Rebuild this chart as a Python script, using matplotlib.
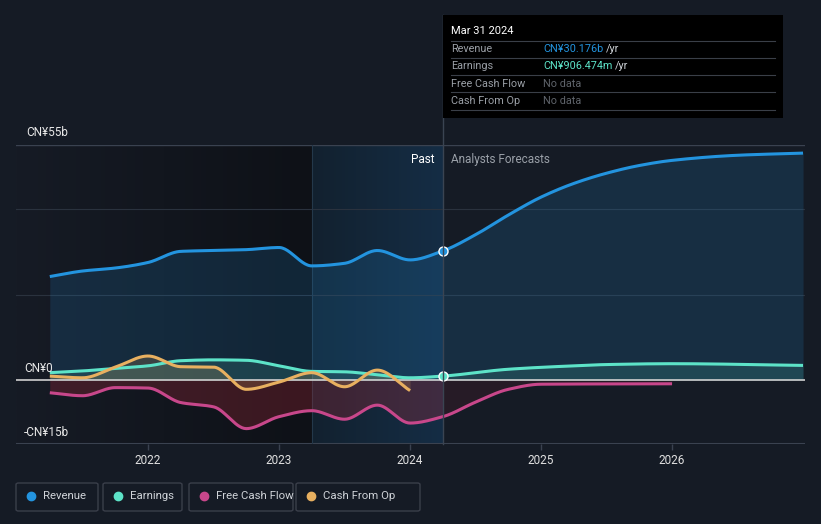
import numpy as np
import matplotlib
matplotlib.use("Agg")
import matplotlib.pyplot as plt
from matplotlib.patches import FancyBboxPatch, Rectangle
from matplotlib.lines import Line2D

plt.rcParams['font.family'] = ['Roboto', 'DejaVu Sans']

# ---------------- data (CN¥ billions) ----------------
rev_x = [2021.25, 2021.5, 2021.75, 2022.0, 2022.25, 2022.5, 2022.75, 2023.0,
         2023.25, 2023.5, 2023.75, 2024.0, 2024.25,
         2024.5, 2024.75, 2025.0, 2025.25, 2025.5, 2025.75, 2026.0, 2026.5, 2027.0]
rev_y = [24.2, 25.5, 26.2, 27.5, 30.1, 30.3, 30.5, 31.0,
         26.7, 27.3, 30.3, 28.1, 30.2,
         34.0, 38.6, 42.8, 46.0, 48.4, 50.2, 51.4, 52.6, 53.1]

earn_x = [2021.25, 2021.5, 2021.75, 2022.0, 2022.25, 2022.5, 2022.75, 2023.0,
          2023.25, 2023.5, 2023.75, 2024.0, 2024.25,
          2024.75, 2025.25, 2025.5, 2026.0, 2027.0]
earn_y = [1.7, 2.1, 2.7, 3.3, 4.5, 4.7, 4.6, 3.3,
          2.0, 1.9, 1.2, 0.5, 0.9,
          2.5, 3.3, 3.6, 3.8, 3.4]

fcf_x = [2021.25, 2021.5, 2021.75, 2022.0, 2022.25, 2022.5, 2022.75, 2023.0,
         2023.25, 2023.5, 2023.75, 2024.0, 2024.25,
         2024.5, 2024.75, 2025.0, 2026.0]
fcf_y = [-3.0, -3.7, -1.8, -1.9, -5.3, -6.3, -11.4, -8.6,
         -7.2, -9.2, -5.9, -10.1, -8.6,
         -5.2, -2.2, -1.0, -0.9]

cfo_x = [2021.25, 2021.5, 2021.75, 2022.0, 2022.25, 2022.5, 2022.75, 2023.0,
         2023.25, 2023.5, 2023.75, 2024.0]
cfo_y = [0.9, 0.5, 3.0, 5.6, 3.1, 3.0, -2.2, -0.5,
         1.7, -1.6, 2.3, -2.5]

now_x = 2024.25
band_start = 2023.25
xticks = [2022, 2023, 2024, 2025, 2026]
xtick_labels = ["2022", "2023", "2024", "2025", "2026"]
legend_names = ["Revenue", "Earnings", "Free Cash Flow", "Cash From Op"]

C_REV = "#2394df"
C_EARN = "#5de3c8"
C_FCF = "#c8478b"
C_CFO = "#e8b060"
BG = "#151b25"


def monotone(x, y, n=600):
    x = np.asarray(x, float); y = np.asarray(y, float)
    h = np.diff(x); d = np.diff(y) / h
    m = np.zeros_like(y)
    m[0] = d[0]; m[-1] = d[-1]
    for i in range(1, len(y) - 1):
        if d[i - 1] * d[i] <= 0:
            m[i] = 0
        else:
            w1 = 2 * h[i] + h[i - 1]; w2 = h[i] + 2 * h[i - 1]
            m[i] = (w1 + w2) / (w1 / d[i - 1] + w2 / d[i])
    xs = np.linspace(x[0], x[-1], n)
    idx = np.clip(np.searchsorted(x, xs) - 1, 0, len(x) - 2)
    t = (xs - x[idx]) / h[idx]
    h00 = 2 * t**3 - 3 * t**2 + 1; h10 = t**3 - 2 * t**2 + t
    h01 = -2 * t**3 + 3 * t**2; h11 = t**3 - t**2
    ys = h00 * y[idx] + h10 * h[idx] * m[idx] + h01 * y[idx + 1] + h11 * h[idx] * m[idx + 1]
    return xs, ys


fig = plt.figure(figsize=(8.21, 5.24), dpi=100, facecolor=BG)
ax = fig.add_axes([16 / 821, 1 - 444 / 524, (805 - 16) / 821, (444 - 145) / 524])
ax.set_facecolor(BG)
XL, XR, YB, YT = 2020.992, 2027.015, -15, 55
ax.set_xlim(XL, XR); ax.set_ylim(YB, YT)

# past background gradient
grad = np.linspace(0, 1, 256).reshape(1, -1)
c0 = np.array([0x16, 0x1b, 0x25]) / 255; c1 = np.array([0x0e, 0x11, 0x17]) / 255
img = c0[None, None, :] * (1 - grad[..., None]) + c1[None, None, :] * grad[..., None]
ax.imshow(img, extent=[XL, band_start, YB, YT], aspect='auto', zorder=0)
# highlighted band
b0 = np.array([0x12, 0x21, 0x2f]) / 255; b1 = np.array([0x15, 0x2d, 0x45]) / 255
img2 = b0[None, None, :] * (1 - grad[..., None]) + b1[None, None, :] * grad[..., None]
ax.imshow(img2, extent=[band_start, now_x, YB, YT], aspect='auto', zorder=0)
ax.set_xlim(XL, XR); ax.set_ylim(YB, YT)

# grid
for g in [20, 40]:
    ax.axhline(g, color="#2a323e", lw=0.8, zorder=1)
ax.axhline(55, color="#3a4250", lw=1.0, zorder=1)
ax.axhline(-15, color="#3a4250", lw=1.5, zorder=1)
ax.axvline(band_start, color="#24384a", lw=0.8, zorder=1)

# series
series = [(rev_x, rev_y, C_REV, 0.16), (earn_x, earn_y, C_EARN, 0.14),
          (fcf_x, fcf_y, C_FCF, 0.0), (cfo_x, cfo_y, C_CFO, 0.18)]
for xs_, ys_, col, a in series:
    sx, sy = monotone(xs_, ys_)
    if col == C_FCF:
        past = sx <= now_x
        ax.fill_between(sx[past], sy[past], 0, color="#b02a3a", alpha=0.28, lw=0, zorder=2)
        ax.fill_between(sx[~past], sy[~past], 0, color="#5a1e2a", alpha=0.25, lw=0, zorder=2)
    else:
        ax.fill_between(sx, sy, 0, color=col, alpha=a, lw=0, zorder=2)
    ax.plot(sx, sy, color=col, lw=2.2, zorder=4, solid_capstyle='butt')

ax.axhline(0, color="#d0d0d0", lw=1.2, zorder=3)

# now markers
ax.plot([now_x], [rev_y[rev_x.index(now_x)]], 'o', ms=6.5, color=C_REV, mec="white", mew=1.0, zorder=6)
ax.plot([now_x], [earn_y[earn_x.index(now_x)]], 'o', ms=6.5, color=C_EARN, mec="white", mew=1.0, zorder=6)

# ticks
ax.set_xticks(xticks)
ax.set_xticklabels(xtick_labels)
ax.tick_params(axis='x', colors="#3a4250", length=4, width=1, labelcolor="#e0e0e0", labelsize=8.5, pad=3)
ax.set_yticks([])
for s in ax.spines.values():
    s.set_visible(False)

ax.text(now_x - 0.06, 51.5, "Past", color="white", fontsize=8.5, ha='right', va='center', zorder=7)
ax.text(now_x + 0.06, 51.5, "Analysts Forecasts", color="#9aa0a8", fontsize=8.5, ha='left', va='center', zorder=7)

# y labels (figure coords)
def fy(py):
    return 1 - py / 524
fig.text(26 / 821, fy(132), "CN¥55b", color="#e8e8e8", fontsize=8.5, va='center')
fig.text(24 / 821, fy(368), "CN¥0", color="#e8e8e8", fontsize=8.5, va='center')
fig.text(24 / 821, fy(432), "-CN¥15b", color="#e8e8e8", fontsize=8.5, va='center')

# now line extends up to tooltip
fig.add_artist(Line2D([443 / 821, 443 / 821], [fy(444), fy(15)], color="#3a4452", lw=1, zorder=1))

# tooltip
fig.add_artist(Rectangle((443 / 821, fy(118)), (783 - 443) / 821, (118 - 15) / 524,
                         facecolor="black", edgecolor="none", zorder=5))
fig.text(451 / 821, fy(31), "Mar 31 2024", color="white", fontsize=8, va='center', zorder=6)
rows = [("Revenue", "CN¥30.176b", C_REV), ("Earnings", "CN¥906.474m", C_EARN),
        ("Free Cash Flow", "No data", None), ("Cash From Op", "No data", None)]
row_y = [49, 66, 84, 101]
for py in [41, 58, 75, 92, 110]:
    fig.add_artist(Line2D([451 / 821, 775 / 821], [fy(py), fy(py)], color="#3a3f48", lw=0.8, zorder=6))
for (lab, val, col), py in zip(rows, row_y):
    fig.text(451 / 821, fy(py), lab, color="#9a9fa6", fontsize=7.8, va='center', zorder=7)
    if col:
        t = fig.text(543 / 821, fy(py), val, color=col, fontsize=7.8, va='center', zorder=7)
        fig.canvas.draw()
        bb = t.get_window_extent()
        fig.text((bb.x1 + 3) / 821, fy(py), "/yr", color="#cfd3d8", fontsize=7.8, va='center', zorder=7)
    else:
        fig.text(543 / 821, fy(py), val, color="#5f646b", fontsize=7.8, va='center', zorder=7)

# legend boxes
boxes = [(16, 98), (103, 182), (189, 293), (296, 420)]
cols = [C_REV, C_EARN, C_FCF, C_CFO]
for (x0, x1), name, col in zip(boxes, legend_names, cols):
    fig.add_artist(FancyBboxPatch((x0 / 821, fy(511)), (x1 - x0) / 821, 28 / 524,
                                  boxstyle="round,pad=0,rounding_size=0.003",
                                  facecolor="none", edgecolor="#3a3f4a", lw=1))
    fig.add_artist(Line2D([(x0 + 15) / 821], [fy(496)], marker='o', ms=6, color=col, lw=0))
    fig.text((x0 + 27) / 821, fy(496), name, color="#cfd3d8", fontsize=8.2, va='center')

fig.savefig("out.png", dpi=100, facecolor=BG)
